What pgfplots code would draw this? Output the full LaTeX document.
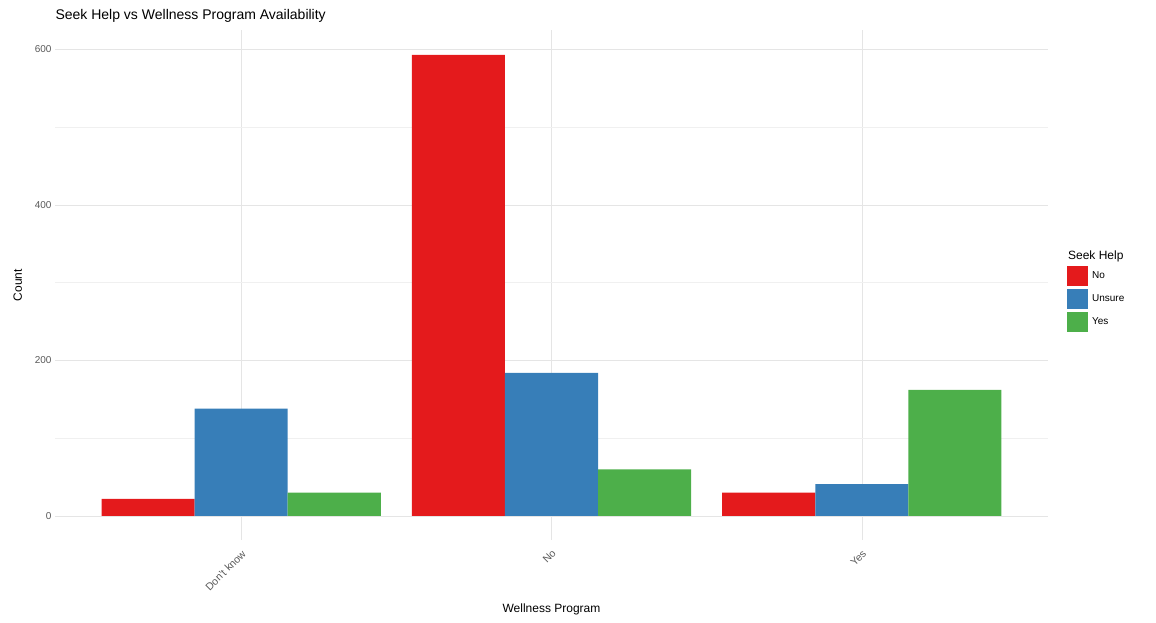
\documentclass[border=0pt]{standalone}
\usepackage{pgfplots}
\pgfplotsset{compat=1.18}
\usepackage{fontspec}
\setmainfont{Liberation Sans}
\definecolor{cR}{HTML}{E41A1C}
\definecolor{cB}{HTML}{377EB8}
\definecolor{cG}{HTML}{4DAF4A}
\begin{document}
\begin{tikzpicture}
\path[use as bounding box] (-55pt,-82pt) rectangle (1101pt,540pt);
\begin{axis}[
  at={(0,0)}, anchor=south west,
  scale only axis, width=993pt, height=510pt,
  xmin=-0.6, xmax=2.6, ymin=-31, ymax=625,
  axis line style={draw=none}, tick style={draw=none},
  ybar=0pt, bar width=0.3,
  xtick={0,1,2}, xticklabels={Don't know,No,Yes},
  xticklabel style={rotate=45, anchor=north east, font=\fontsize{10.5}{12}\selectfont, text=black!65},
  ytick={0,200,400,600}, minor ytick={100,300,500},
  yticklabel style={font=\fontsize{10}{11}\selectfont, text=black!65},
  /pgf/number format/assume math mode=true,
  grid=both, major grid style={black!10}, minor grid style={black!6},
  xlabel={Wellness Program}, ylabel={Count},
  xlabel style={font=\fontsize{12}{14}\selectfont, yshift=-4pt},
  ylabel style={font=\fontsize{12}{14}\selectfont, yshift=6pt},
  legend style={at={(1.016,0.575)}, anchor=north west, draw=none, fill=none,
    font=\fontsize{10}{12}\selectfont, row sep=3pt},
  legend cell align=left,
  legend image code/.code={\fill[#1] (0pt,-10pt) rectangle (21pt,10pt);},
]
\addlegendimage{empty legend}
\addlegendentry{\hspace{-22pt}\fontsize{12}{14}\selectfont Seek Help}
\addplot[fill=cR, draw=none] coordinates {(0,22) (1,593) (2,30)};
\addlegendentry{\hspace{2pt}No}
\addplot[fill=cB, draw=none] coordinates {(0,138) (1,184) (2,41)};
\addlegendentry{\hspace{2pt}Unsure}
\addplot[fill=cG, draw=none] coordinates {(0,30) (1,60) (2,162)};
\addlegendentry{\hspace{2pt}Yes}
\end{axis}
\node[anchor=west, font=\fontsize{14}{16}\selectfont] at (-3pt,524pt) {Seek Help vs Wellness Program Availability};
\end{tikzpicture}
\end{document}
